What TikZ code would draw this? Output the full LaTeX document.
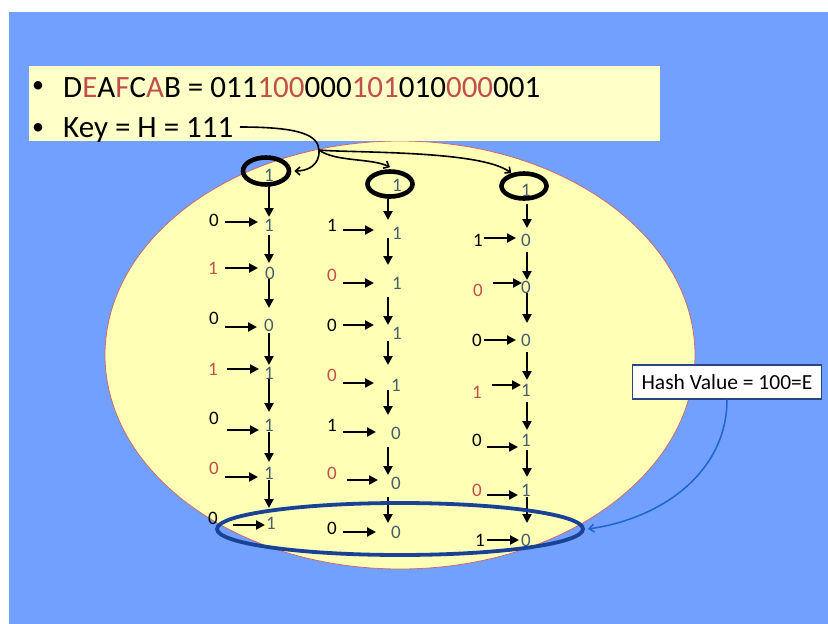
\documentclass[tikz,border=0pt]{standalone}
\usepackage{fontspec}
\setmainfont{Carlito}
\usetikzlibrary{arrows.meta,shapes.geometric}
\definecolor{bgblue}{RGB}{114,160,255}
\definecolor{boxyellow}{RGB}{255,255,200}
\definecolor{ellyellow}{RGB}{255,255,182}
\definecolor{ellred}{RGB}{200,105,115}
\definecolor{myred}{RGB}{192,80,77}
\definecolor{digcol}{RGB}{70,95,110}
\definecolor{selblue}{RGB}{25,65,150}
\definecolor{hashborder}{RGB}{40,70,130}
\definecolor{connblue}{RGB}{30,100,210}
\tikzset{
  toptext/.style={font=\fontsize{31}{37}\selectfont, inner sep=0pt, text=black},
  bulletmark/.style={font=\fontsize{24}{28}\selectfont, inner sep=0pt, text=black},
  lab/.style={font=\fontsize{19}{22}\selectfont, inner sep=1pt},
  dig/.style={font=\fontsize{19}{22}\selectfont, inner sep=1pt, text=digcol},
  harrow/.style={line width=2.2pt, -{Triangle[length=9pt,width=9pt]}},
  varrow/.style={line width=2.2pt, -{Triangle[length=9pt,width=9pt]}},
  keyline/.style={line width=1.6pt, black},
  keyarrow/.style={keyline, -{Straight Barb[length=4.5pt,width=8pt]}},
  topring/.style={draw=black, line width=4.6pt, ellipse, inner sep=0pt},
  selring/.style={draw=selblue, line width=3.8pt, ellipse, inner sep=0pt, minimum width=366pt, minimum height=52pt},
  hashbox/.style={draw=hashborder, line width=1.3pt, fill=white, font=\fontsize{21.5}{25}\selectfont, minimum width=189pt, minimum height=34pt, inner sep=2pt},
  connector/.style={draw=connblue, line width=1.5pt, -{Straight Barb[length=5pt,width=8pt]}}
}
\begin{document}
\begin{tikzpicture}[x=1pt,y=-1pt]
\useasboundingbox (0,0) rectangle (828,624);
\fill[white] (0,0) rectangle (828,624);
\fill[bgblue] (9,12) rectangle (828,624);
% big ellipse
\draw[fill=ellyellow, draw=ellred, line width=0.8pt] (400,355) ellipse [x radius=295, y radius=214];
% top box
\fill[boxyellow] (29,66) rectangle (660,141);
\node[bulletmark] (b1) at (38,87) {•};
\node[bulletmark] (b2) at (38,129) {•};
\node[toptext, anchor=base west] (t1) at (63,97) {D\textcolor{myred}{E}A\textcolor{myred}{F}C\textcolor{myred}{A}B = 011\textcolor{myred}{100}000\textcolor{myred}{101}010\textcolor{myred}{000}001};
\node[toptext, anchor=base west] (t2) at (63,137) {Key = H = 111};
% top rings and digits
\node[dig] (top1) at (269,175) {1};
\node[dig] (top2) at (397,185) {1};
\node[dig] (top3) at (526,190) {1};
\node[topring, minimum width=46pt, minimum height=27pt] (e1) at (266,171) {};
\node[topring, minimum width=45pt, minimum height=25pt] (e2) at (390,184) {};
\node[topring, minimum width=45pt, minimum height=25pt] (e3) at (524,186) {};
% key curves
\coordinate (keyend) at (240,127);
\coordinate (split) at (319,150);
\draw[keyline] (keyend) .. controls (300,127) and (318,135) .. (split);
\draw[keyarrow] (split) .. controls (320,165) and (308,171) .. ([xshift=3pt]e1.east);
\draw[keyarrow] (split) .. controls (335,162) and (372,158) .. ([yshift=2pt]e2.north);
\draw[keyarrow] (split) .. controls (350,153) and (482,150) .. (e3.135);
% vertical arrows
\foreach \n/\x/\ya/\yb in {a1/269/184/217, a2/269/235/263, a3/269/278/308, a4/269/333/365, a5/269/379/412, a6/269/432/462, a7/269/480/508,
  b1/388/197/220, b2/388/238/265, b3/388/297/325, b4/388/341/365, b5/388/390/415, b6/388/447/475, b7/388/497/523,
  c1/527/204/228, c2/527/252/280, c3/527/293/323, c4/527/352/380, c5/527/402/430, c6/527/450/477, c7/527/497/523}
{
  \coordinate (v\n s) at (\x,\ya);
  \coordinate (v\n e) at (\x,\yb);
  \draw[varrow] (v\n s) -- (v\n e);
}
% rows
\foreach \n/\lx/\ly/\lt/\lc/\ay/\axa/\axb/\dx/\dy/\dt in {
  a1/214/220/0/black/222/225/258/269/225/1,
  a2/213/268/1/myred/268/225/258/270/273/0,
  a3/214/318/0/black/327/225/257/269/325/0,
  a4/213/369/1/myred/369/227/259/269/373/1,
  a5/214/418/0/black/430/227/259/269/425/1,
  a6/214/468/0/myred/477/225/258/269/473/1,
  a7/213/518/0/black/525/233/265/271/523/1,
  b1/332/225/1/black/230/343/374/397/233/1,
  b2/332/275/0/myred/283/343/374/397/283/1,
  b3/332/325/0/black/325/343/374/397/333/1,
  b4/332/375/0/myred/383/343/374/396/385/1,
  b5/332/425/1/black/432/343/376/396/433/0,
  b6/332/473/0/myred/480/347/378/396/483/0,
  b7/332/528/0/black/532/343/376/396/532/0,
  c1/478/240/1/black/238/484/516/526/240/0,
  c2/478/290/0/myred/283/493/522/526/287/0,
  c3/477/340/0/black/340/484/516/526/340/0,
  c4/477/392/1/myred/385/492/521/526/390/1,
  c5/477/440/0/black/447/487/518/526/440/1,
  c6/477/490/0/myred/495/487/518/526/490/1,
  c7/480/540/1/black/540/487/519/526/540/0}
{
  \node[lab, text=\lc] (l\n) at (\lx,\ly) {\lt};
  \node[dig] (d\n) at (\dx,\dy) {\dt};
  \coordinate (h\n s) at (\axa,\ay);
  \coordinate (h\n e) at (\axb,\ay);
  \draw[harrow] (h\n s) -- (h\n e);
}
% selection ellipse
\node[selring] (sel) at (400,529) {};
% hash box
\node[hashbox] (hash) at (727,382) {Hash Value = 100=E};
\draw[connector] (hash.south) .. controls (727,470) and (665,518) .. ([xshift=3pt]sel.east);
\end{tikzpicture}
\end{document}
